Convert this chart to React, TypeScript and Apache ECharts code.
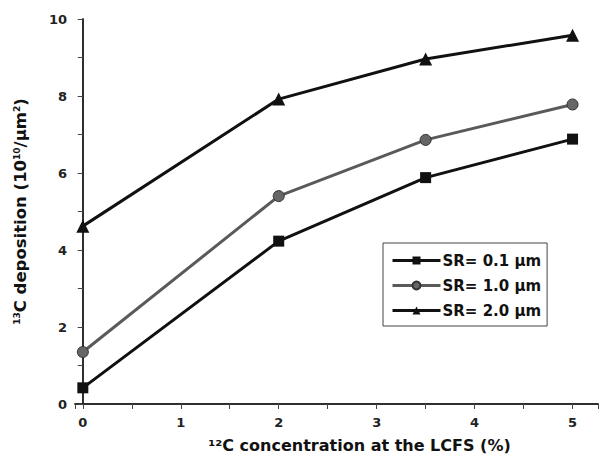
import React, { useEffect, useRef } from "react";
import * as echarts from "echarts";

const xValues = [0, 2, 3.5, 5];
const sr01 = [0.42, 4.23, 5.88, 6.88];
const sr10 = [1.35, 5.4, 6.86, 7.78];
const sr20 = [4.62, 7.92, 8.96, 9.58];
const seriesNames = ["SR= 0.1 μm", "SR= 1.0 μm", "SR= 2.0 μm"];

const FONT = "'DejaVu Sans', Arial, sans-serif";

export default function App() {
  const ref = useRef<HTMLDivElement>(null);
  useEffect(() => {
    if (!ref.current) return;
    const chart = echarts.init(ref.current, null, { renderer: "svg" });
    const pts = (ys: number[]) => xValues.map((x, i) => [x, ys[i]]);
    const xMin = -0.08;
    const xMax = 5.26;
    chart.setOption({
      animation: false,
      backgroundColor: "#fff",
      textStyle: { fontFamily: FONT },
      grid: { left: 75, right: 2, top: 19, bottom: 64 },
      legend: {
        orient: "vertical",
        left: 383,
        top: 243,
        padding: [10, 6, 8, 8],
        itemGap: 10,
        itemWidth: 48,
        itemHeight: 10,
        borderColor: "#444",
        borderWidth: 1,
        lineStyle: { width: 3 },
        textStyle: { fontFamily: FONT, fontWeight: "bold", fontSize: 15, color: "#111", padding: [0, 0, 0, -3] },
        data: seriesNames,
      },
      xAxis: [
        {
          type: "value",
          min: xMin,
          max: xMax,
          splitNumber: 5,
          position: "bottom",
          name: "¹²C concentration at the LCFS (%)",
          nameLocation: "middle",
          nameGap: 33,
          nameTextStyle: { fontFamily: FONT, fontWeight: "bold", fontSize: 16, color: "#111", padding: [0, 0, 0, 46] },
          axisLine: { show: true, lineStyle: { color: "#222", width: 1.5 } },
          axisTick: { show: true, inside: false, length: 5, lineStyle: { color: "#333" } },
          minorTick: { show: true, splitNumber: 2, length: 3, lineStyle: { color: "#555" } },
          axisLabel: {
            showMinLabel: false,
            showMaxLabel: false,
            margin: 12,
            fontFamily: FONT,
            fontWeight: "bold",
            fontSize: 13,
            color: "#222",
            formatter: (v: number) => (Number.isInteger(v) ? String(v) : ""),
          },
          splitLine: { show: false },
        },
        {
          type: "value",
          min: xMin,
          max: xMax,
          splitNumber: 10,
          position: "top",
          axisLine: { show: true, lineStyle: { color: "#222", width: 1.5 } },
          axisTick: { show: true, inside: true, length: 5, lineStyle: { color: "#444" } },
          axisLabel: { show: false },
          splitLine: { show: false },
        },
      ],
      yAxis: [
        {
          type: "value",
          min: 0,
          max: 10,
          interval: 2,
          position: "left",
          name: "{sup|13}{t|C deposition (10}{sup|10}{t|/μm}{sup|2}{t|)}",
          nameLocation: "middle",
          nameRotate: 90,
          nameGap: 46,
          nameTextStyle: {
            rich: {
              t: { fontFamily: FONT, fontWeight: "bold", fontSize: 16.5, color: "#111" },
              sup: { fontFamily: FONT, fontWeight: "bold", fontSize: 9, color: "#111", padding: [0, 0, 8, 0] },
            },
          },
          axisLine: { show: true, lineStyle: { color: "#222", width: 1.5 } },
          axisTick: { show: true, inside: false, length: 5, lineStyle: { color: "#333" } },
          minorTick: { show: true, splitNumber: 2, length: 3, lineStyle: { color: "#777" } },
          axisLabel: { margin: 8, fontFamily: FONT, fontWeight: "bold", fontSize: 13, color: "#222" },
          splitLine: { show: false },
        },
        {
          type: "value",
          min: 0,
          max: 10,
          interval: 1,
          position: "right",
          axisLine: { show: true, lineStyle: { color: "#222", width: 1.5 } },
          axisTick: { show: true, inside: true, length: 5, lineStyle: { color: "#444" } },
          axisLabel: { show: false },
          splitLine: { show: false },
        },
      ],
      series: [
        {
          name: seriesNames[0],
          type: "line",
          data: pts(sr01),
          symbol: "rect",
          symbolSize: 11,
          lineStyle: { color: "#111", width: 3 },
          itemStyle: { color: "#111" },
        },
        {
          name: seriesNames[1],
          type: "line",
          data: pts(sr10),
          symbol: "circle",
          symbolSize: 11,
          lineStyle: { color: "#5a5a5a", width: 3 },
          itemStyle: { color: "#666", borderColor: "#333", borderWidth: 1 },
        },
        {
          name: seriesNames[2],
          type: "line",
          data: pts(sr20),
          symbol: "triangle",
          symbolSize: 13,
          lineStyle: { color: "#111", width: 3 },
          itemStyle: { color: "#111" },
        },
      ],
    });
    return () => chart.dispose();
  }, []);
  return <div ref={ref} style={{ width: 600, height: 468, position: "absolute", left: 0, top: 0 }} />;
}
